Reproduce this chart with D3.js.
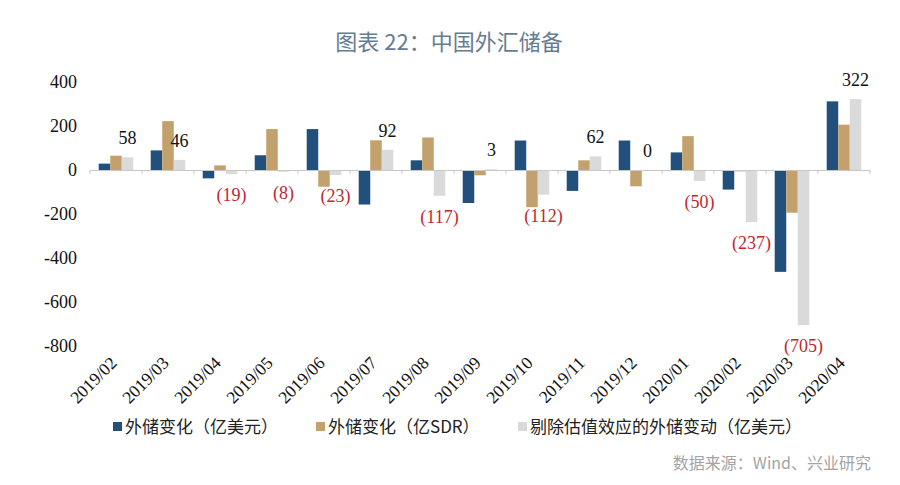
<!DOCTYPE html>
<html><head><meta charset="utf-8">
<script src="https://cdn.jsdelivr.net/npm/d3@7"></script>
<style>
body{margin:0;background:#fff;}
svg{display:block;}
</style></head>
<body>
<svg id="chart" width="900" height="485"></svg>
<script>
const categories = ["2019/02","2019/03","2019/04","2019/05","2019/06","2019/07","2019/08","2019/09","2019/10","2019/11","2019/12","2020/01","2020/02","2020/03","2020/04"];
const usdChange = [29, 89, -38, 67, 186, -157, 44, -150, 134, -95, 134, 80, -89, -463, 312];
const sdrChange = [65, 222, 21, 186, -76, 135, 148, -24, -169, 44, -74, 154, -6, -194, 206];
const adjChange = [58, 46, -19, -8, -23, 92, -117, 3, -112, 62, 0, -50, -237, -705, 322];
const yTicks = [400, 200, 0, -200, -400, -600, -800];
const seriesNames = ["外储变化（亿美元）", "外储变化（亿SDR）", "剔除估值效应的外储变动（亿美元）"];
const colors = ["#22507c", "#c3a16c", "#dadada"];

const svg = d3.select("#chart");
const serif = "'Liberation Serif','Times New Roman',serif";
const cjk = "'Noto Sans CJK SC',sans-serif";

const x = d3.scaleBand().domain(categories).range([90, 870]).paddingInner(0.335).paddingOuter(0.1675);
const outer = d3.scaleBand().domain(categories).range([90, 870]);
const y = d3.scaleLinear().domain([-800, 400]).range([346, 82]);
const sub = d3.scaleBand().domain([0,1,2]).range([0, x.bandwidth()]);

// Title
svg.append("text").attr("x", 449).attr("y", 50).attr("text-anchor", "middle")
  .attr("font-family", cjk).attr("font-size", 22).attr("fill", "#667c93")
  .text("图表 22：中国外汇储备");

// Y axis labels
const yAxis = d3.axisLeft(y).tickValues(yTicks).tickSize(0).tickPadding(0).tickFormat(d => d);
const yg = svg.append("g").attr("transform", "translate(77,0)").call(yAxis);
yg.select(".domain").remove();
yg.selectAll("text").attr("font-family", serif).attr("font-size", 18).attr("fill", "#111");

// Bars
const data = [usdChange, sdrChange, adjChange];
data.forEach((vals, si) => {
  svg.append("g").selectAll("rect").data(vals).join("rect")
    .attr("x", (d, i) => x(categories[i]) + sub(si))
    .attr("width", sub.bandwidth())
    .attr("y", d => y(Math.max(0, d)))
    .attr("height", d => Math.abs(y(d) - y(0)))
    .attr("fill", colors[si]);
});

// Zero baseline with ticks
const xAxis = d3.axisBottom(outer).tickSize(0).tickFormat("");
const xg = svg.append("g").attr("transform", `translate(0,${y(0)})`).call(xAxis);
xg.select(".domain").attr("stroke", "#c8c8c8");
svg.append("g").selectAll("line").data(d3.range(categories.length + 1)).join("line")
  .attr("x1", i => 90 + i * outer.step()).attr("x2", i => 90 + i * outer.step())
  .attr("y1", y(0)).attr("y2", y(0) + 4).attr("stroke", "#c8c8c8");

// Data labels on the adjusted series
svg.append("g").selectAll("text").data(adjChange).join("text")
  .attr("x", (d, i) => x(categories[i]) + sub(2) + sub.bandwidth() / 2)
  .attr("y", d => d >= 0 ? y(d) - 13 : y(d) + 27)
  .attr("text-anchor", "middle")
  .attr("font-family", serif).attr("font-size", 18)
  .attr("fill", d => d >= 0 ? "#111" : "#c0292f")
  .text(d => d >= 0 ? d : `(${-d})`);

// X category labels
svg.append("g").selectAll("text").data(categories).join("text")
  .attr("transform", d => `translate(${outer(d) + outer.bandwidth() / 2 + 2},${364}) rotate(-45)`)
  .attr("text-anchor", "end")
  .attr("font-family", serif).attr("font-size", 17.5).attr("fill", "#111")
  .text(d => d);

// Legend
const legendX = [113, 316, 518];
const lg = svg.append("g");
seriesNames.forEach((n, i) => {
  lg.append("rect").attr("x", legendX[i]).attr("y", 422).attr("width", 9).attr("height", 9).attr("fill", colors[i]);
  lg.append("text").attr("x", legendX[i] + 12).attr("y", 432.5)
    .attr("font-family", cjk).attr("font-size", 17).attr("fill", "#222").text(n);
});

// Source
svg.append("text").attr("x", 871).attr("y", 469).attr("text-anchor", "end")
  .attr("font-family", cjk).attr("font-size", 16).attr("fill", "#a3a3a3")
  .text("数据来源：Wind、兴业研究");
</script>
</body></html>
